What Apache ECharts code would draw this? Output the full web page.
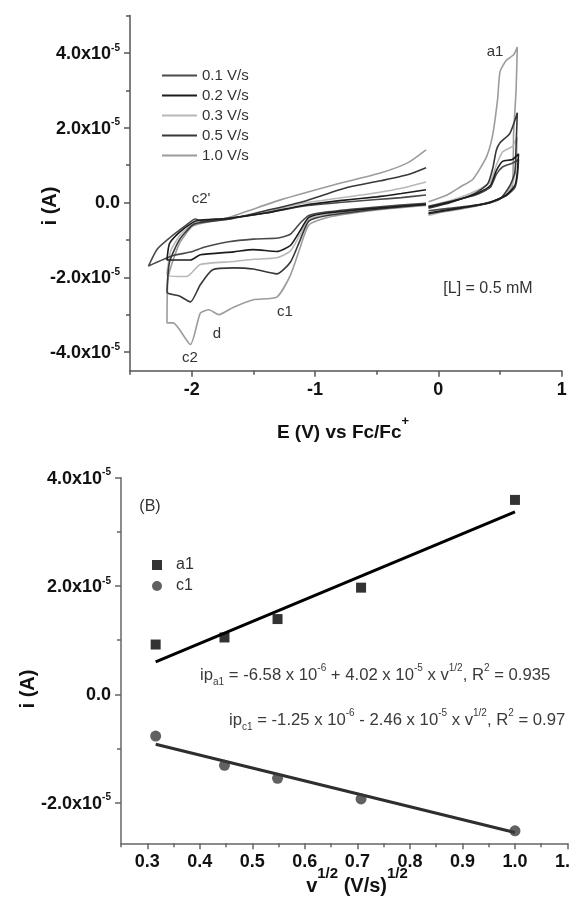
<!DOCTYPE html>
<html><head><meta charset="utf-8">
<script src="https://cdn.jsdelivr.net/npm/echarts@6/dist/echarts.min.js"></script>
<style>html,body{margin:0;padding:0;background:#fff}#c{width:569px;height:900px}</style>
</head><body><div id="c"></div>
<script>
// ---------- DATA (currents in units of 1e-5 A) ----------
const scanRates = ['0.1 V/s', '0.2 V/s', '0.3 V/s', '0.5 V/s', '1.0 V/s'];

// panel A: cyclic voltammograms [E (V vs Fc/Fc+), i (1e-5 A)]
const cv01Cathodic = [[-0.10,-0.02],[-0.50,-0.12],[-0.90,-0.25],[-1.05,-0.35],[-1.12,-0.55],[-1.20,-0.85],[-1.30,-0.95],[-1.50,-0.98],[-1.70,-1.05],[-1.90,-1.20],[-2.00,-1.32],[-2.15,-1.42],[-2.35,-1.70],
  [-2.28,-1.25],[-2.18,-0.95],[-2.05,-0.62],[-1.97,-0.44],[-1.92,-0.50],[-1.70,-0.42],[-1.40,-0.28],[-1.10,-0.10],[-0.80,0.00],[-0.50,0.08],[-0.30,0.13],[-0.10,0.20]];
const cv02Cathodic = [[-0.10,-0.05],[-0.50,-0.15],[-0.90,-0.28],[-1.05,-0.40],[-1.12,-0.75],[-1.20,-1.15],[-1.31,-1.31],[-1.50,-1.26],[-1.66,-1.32],[-1.93,-1.40],[-2.01,-1.54],[-2.20,-1.54],
  [-2.18,-1.10],[-2.10,-0.80],[-2.00,-0.55],[-1.95,-0.48],[-1.70,-0.42],[-1.40,-0.28],[-1.10,-0.08],[-0.80,0.05],[-0.50,0.15],[-0.30,0.24],[-0.10,0.34]];
const cv03Cathodic = [[-0.10,-0.05],[-0.50,-0.17],[-0.90,-0.32],[-1.05,-0.45],[-1.12,-0.85],[-1.20,-1.30],[-1.31,-1.48],[-1.50,-1.52],[-1.66,-1.58],[-1.93,-1.66],[-2.04,-1.98],[-2.20,-1.93],
  [-2.17,-1.30],[-2.10,-0.90],[-2.00,-0.60],[-1.95,-0.52],[-1.70,-0.45],[-1.40,-0.25],[-1.10,-0.02],[-0.80,0.12],[-0.50,0.26],[-0.30,0.38],[-0.10,0.55]];
const cv05Cathodic = [[-0.10,-0.05],[-0.50,-0.18],[-0.90,-0.35],[-1.05,-0.50],[-1.12,-1.00],[-1.20,-1.60],[-1.31,-1.91],[-1.50,-1.78],[-1.66,-1.75],[-1.83,-1.80],[-1.93,-2.20],[-2.01,-2.66],[-2.10,-2.50],[-2.20,-2.40],
  [-2.18,-1.60],[-2.10,-1.00],[-2.00,-0.62],[-1.95,-0.55],[-1.70,-0.45],[-1.40,-0.22],[-1.10,0.02],[-0.74,0.40],[-0.47,0.58],[-0.25,0.74],[-0.10,0.93]];
const cv10Cathodic = [[-0.10,-0.08],[-0.50,-0.20],[-0.90,-0.40],[-1.05,-0.60],[-1.12,-1.20],[-1.20,-1.95],[-1.31,-2.53],[-1.50,-2.60],[-1.66,-2.80],[-1.78,-3.00],[-1.86,-2.87],[-1.93,-2.96],[-2.01,-3.80],[-2.15,-3.22],[-2.20,-3.22],
  [-2.19,-2.00],[-2.10,-1.10],[-2.00,-0.65],[-1.95,-0.58],[-1.70,-0.40],[-1.28,0.07],[-0.85,0.47],[-0.47,0.79],[-0.25,1.06],[-0.10,1.41]];

const cv01Anodic = [[-0.08,-0.10],[0.10,0.03],[0.30,0.20],[0.42,0.40],[0.47,0.75],[0.52,0.95],[0.60,1.05],[0.65,1.15],
  [0.64,0.70],[0.62,0.40],[0.55,0.18],[0.40,-0.02],[0.10,-0.15],[-0.08,-0.22]];
const cv02Anodic = [[-0.08,-0.12],[0.10,0.02],[0.30,0.22],[0.42,0.45],[0.47,0.85],[0.52,1.10],[0.60,1.15],[0.65,1.30],
  [0.64,0.80],[0.62,0.45],[0.55,0.20],[0.40,-0.02],[0.10,-0.18],[-0.08,-0.28]];
const cv03Anodic = [[-0.08,-0.10],[0.10,0.05],[0.30,0.30],[0.42,0.55],[0.47,1.00],[0.52,1.35],[0.60,1.50],[0.64,1.75],
  [0.63,1.00],[0.60,0.50],[0.52,0.15],[0.35,-0.05],[0.10,-0.20],[-0.08,-0.35]];
const cv05Anodic = [[-0.08,-0.15],[0.10,0.00],[0.30,0.25],[0.40,0.50],[0.44,0.90],[0.47,1.40],[0.50,1.60],[0.58,1.85],[0.64,2.40],
  [0.63,1.50],[0.62,0.80],[0.58,0.45],[0.50,0.10],[0.35,-0.05],[0.10,-0.20],[-0.08,-0.30]];
const cv10Anodic = [[-0.08,0.02],[0.07,0.20],[0.18,0.42],[0.28,0.62],[0.39,1.22],[0.44,1.80],[0.48,2.75],[0.50,3.50],[0.55,3.80],[0.61,3.95],[0.64,4.16],
  [0.63,3.00],[0.61,1.85],[0.60,0.42],[0.55,0.20],[0.45,0.02],[0.30,-0.10],[0.10,-0.22],[-0.08,-0.30]];

// panel B: peak currents vs sqrt(scan rate)
const sqrtRate = [0.316, 0.447, 0.548, 0.707, 1.0];
const ipA1 = [0.92, 1.05, 1.39, 1.97, 3.59];
const ipC1 = [-0.77, -1.31, -1.55, -1.93, -2.52];
const fitX = [0.316, 1.0];
const fitA1 = [0.60, 3.37];
const fitC1 = [-0.92, -2.55];

// tick labels
const topXMajor = [-2, -1, 0, 1];
const topXMinor = [-2.5, -1.5, -0.5, 0.5];
const topYMajor = [-4, -2, 0, 2, 4];
const topYMinor = [-3, -1, 1, 3, 5];
const botXMajor = [0.3, 0.4, 0.5, 0.6, 0.7, 0.8, 0.9, 1.0, 1.1];
const botXMinor = [0.25, 0.35, 0.45, 0.55, 0.65, 0.75, 0.85, 0.95, 1.05];
const botYMajor = [-2, 0, 2, 4];
const botYMinor = [-1, 1, 3];

// ---------- STYLE ----------
const FONT = 'Liberation Sans, Arial, Helvetica, sans-serif';
const rateColors = ['#4a4a4a', '#1c1c1c', '#b8b8b8', '#383838', '#9c9c9c'];
const cathodic = [cv01Cathodic, cv02Cathodic, cv03Cathodic, cv05Cathodic, cv10Cathodic];
const anodic = [cv01Anodic, cv02Anodic, cv03Anodic, cv05Anodic, cv10Anodic];
const drawOrder = [4, 2, 0, 3, 1];
const LINE_ICON = 'path://M0,0H35V1.8H0Z';

function zip(xs, ys) { return xs.map((x, k) => [x, ys[k]]); }

const yRich = {
  b: { fontFamily: FONT, fontSize: 18, fontWeight: 'bold', color: '#111', lineHeight: 20, verticalAlign: 'bottom' },
  s: { fontFamily: FONT, fontSize: 10, fontWeight: 'bold', color: '#111', verticalAlign: 'top' }
};
function yFmt(v) {
  if (Math.abs(v) < 1e-9) return '{b|0.0}';
  return '{b|' + v.toFixed(1) + 'x10}{s|-5}';
}
function majorAxis(grid, min, max, vals, fmt, axColor, extra) {
  return Object.assign({
    type: 'value', gridIndex: grid, min: min, max: max,
    axisLine: { show: true, onZero: false, lineStyle: { color: axColor, width: 1.5 } },
    axisTick: { show: true, customValues: vals, length: 6, lineStyle: { color: axColor, width: 1.5 } },
    axisLabel: { show: true, customValues: vals, formatter: fmt, margin: 10,
      fontFamily: FONT, fontSize: 18, fontWeight: 'bold', color: '#111', rich: yRich,
      showMinLabel: true, showMaxLabel: true, hideOverlap: false },
    splitLine: { show: false }, minorTick: { show: false }
  }, extra || {});
}
function minorAxis(grid, min, max, vals, axColor, extra) {
  return Object.assign({
    type: 'value', gridIndex: grid, min: min, max: max,
    axisLine: { show: false, onZero: false },
    axisTick: { show: true, customValues: vals, length: 4, lineStyle: { color: axColor, width: 1.5 } },
    axisLabel: { show: false }, splitLine: { show: false }
  }, extra || {});
}

const series = [];
drawOrder.forEach(k => {
  [cathodic[k], anodic[k]].forEach(d => series.push({
    type: 'line', name: scanRates[k], xAxisIndex: 0, yAxisIndex: 0, data: d,
    symbol: 'none', smooth: 0.2, lineStyle: { color: rateColors[k], width: 1.6 },
    itemStyle: { color: rateColors[k] }, z: 3
  }));
});
series.push({ type: 'line', name: 'fitA1', xAxisIndex: 2, yAxisIndex: 2, data: zip(fitX, fitA1),
  symbol: 'none', lineStyle: { color: '#000', width: 3 }, z: 2 });
series.push({ type: 'line', name: 'fitC1', xAxisIndex: 2, yAxisIndex: 2, data: zip(fitX, fitC1),
  symbol: 'none', lineStyle: { color: '#2e2e2e', width: 3 }, z: 2 });
series.push({ type: 'scatter', name: 'a1', xAxisIndex: 2, yAxisIndex: 2, data: zip(sqrtRate, ipA1),
  symbol: 'rect', symbolSize: 10, itemStyle: { color: '#000' }, z: 4 });
series.push({ type: 'scatter', name: 'c1', xAxisIndex: 2, yAxisIndex: 2, data: zip(sqrtRate, ipC1),
  symbol: 'circle', symbolSize: 11, itemStyle: { color: '#3a3a3a' }, z: 4 });

const txt = (x, y, s, size, extra) => Object.assign({ type: 'text', x: x, y: y,
  style: { text: s, fontFamily: FONT, fontSize: size, fill: '#333', align: 'center', verticalAlign: 'middle' } }, extra || {});

const eqRich = {
  n: { fontFamily: FONT, fontSize: 16.7, fill: '#3a3a3a', lineHeight: 24, verticalAlign: 'middle' },
  p: { fontFamily: FONT, fontSize: 10, fill: '#3a3a3a', verticalAlign: 'top' },
  d: { fontFamily: FONT, fontSize: 10, fill: '#3a3a3a', verticalAlign: 'bottom' }
};
function eqText(sub, a, sign, b, r2) {
  return '{n|ip}{d|' + sub + '}{n| = ' + a + ' x 10}{p|-6}{n| ' + sign + ' ' + b + ' x 10}{p|-5}{n| x v}{p|1/2}{n|, R}{p|2}{n| = ' + r2 + '}';
}

const graphic = [
  // panel A texts
  { type: 'text', x: 50, y: 206, rotation: Math.PI / 2,
    style: { text: 'i (A)', fontFamily: FONT, fontSize: 20, fontWeight: 'bold', fill: '#111', align: 'center', verticalAlign: 'middle' } },
  { type: 'text', x: 343, y: 414.5,
    style: { text: '{b|E (V) vs Fc/Fc}{s|+}', align: 'center', verticalAlign: 'top',
      rich: { b: { fontFamily: FONT, fontSize: 19, fontWeight: 'bold', fill: '#111', lineHeight: 28, verticalAlign: 'bottom' },
              s: { fontFamily: FONT, fontSize: 13, fontWeight: 'bold', fill: '#111', verticalAlign: 'top' } } } },
  txt(495, 52, 'a1', 15),
  txt(201, 199, "c2'", 15),
  txt(285, 312, 'c1', 15),
  txt(217, 334, 'd', 15),
  txt(190, 358, 'c2', 15),
  txt(488, 289, '[L] = 0.5 mM', 16),
  // panel B texts
  { type: 'text', x: 28, y: 689, rotation: Math.PI / 2,
    style: { text: 'i (A)', fontFamily: FONT, fontSize: 20, fontWeight: 'bold', fill: '#111', align: 'center', verticalAlign: 'middle' } },
  { type: 'text', x: 357, y: 866,
    style: { text: '{b|v}{s|1/2}{b| (V/s)}{s|1/2}', align: 'center', verticalAlign: 'top',
      rich: { b: { fontFamily: FONT, fontSize: 20, fontWeight: 'bold', fill: '#111', lineHeight: 30, verticalAlign: 'bottom' },
              s: { fontFamily: FONT, fontSize: 15, fontWeight: 'bold', fill: '#111', verticalAlign: 'top' } } } },
  txt(150, 507, '(B)', 16),
  { type: 'text', x: 200, y: 663, style: { text: eqText('a1', '-6.58', '+', '4.02', '0.935'), align: 'left', verticalAlign: 'top', rich: eqRich } },
  { type: 'text', x: 229, y: 708, style: { text: eqText('c1', '-1.25', '-', '2.46', '0.97'), align: 'left', verticalAlign: 'top', rich: eqRich } }
];

const option = {
  animation: false,
  backgroundColor: '#fff',
  grid: [
    { left: 130, top: 15.6, width: 431.7, height: 355.1, containLabel: false, outerBoundsMode: 'none' },
    { left: 121, top: 477.7, width: 446.5, height: 365.6, containLabel: false, outerBoundsMode: 'none' }
  ],
  xAxis: [
    majorAxis(0, -2.5, 1, topXMajor, v => String(v), '#555', { position: 'bottom' }),
    minorAxis(0, -2.5, 1, topXMinor, '#555', { position: 'bottom' }),
    majorAxis(1, 0.25, 1.1, botXMajor, v => v.toFixed(1), '#666', { position: 'bottom' }),
    minorAxis(1, 0.25, 1.1, botXMinor, '#666', { position: 'bottom' })
  ],
  yAxis: [
    majorAxis(0, -4.5, 5, topYMajor, yFmt, '#555', { position: 'left' }),
    minorAxis(0, -4.5, 5, topYMinor, '#555', { position: 'left' }),
    majorAxis(1, -2.75, 4, botYMajor, yFmt, '#666', { position: 'left' }),
    minorAxis(1, -2.75, 4, botYMinor, '#666', { position: 'left' })
  ],
  legend: [
    { data: scanRates.map(n => ({ name: n, icon: LINE_ICON })), orient: 'vertical', left: 162, top: 68,
      itemWidth: 35, itemHeight: 14, itemGap: 5, padding: 0, selectedMode: false,
      textStyle: { fontFamily: FONT, fontSize: 15, color: '#333' } },
    { data: [{ name: 'a1', icon: 'rect' }, { name: 'c1', icon: 'circle' }], orient: 'vertical', left: 152, top: 557,
      itemWidth: 10, itemHeight: 10, itemGap: 5, padding: 0, selectedMode: false,
      textStyle: { fontFamily: FONT, fontSize: 16, color: '#333', padding: [0, 0, 0, 9] } }
  ],
  series: series,
  graphic: graphic
};

const chart = echarts.init(document.getElementById('c'), null, { renderer: 'canvas' });
chart.setOption(option);
</script></body></html>
